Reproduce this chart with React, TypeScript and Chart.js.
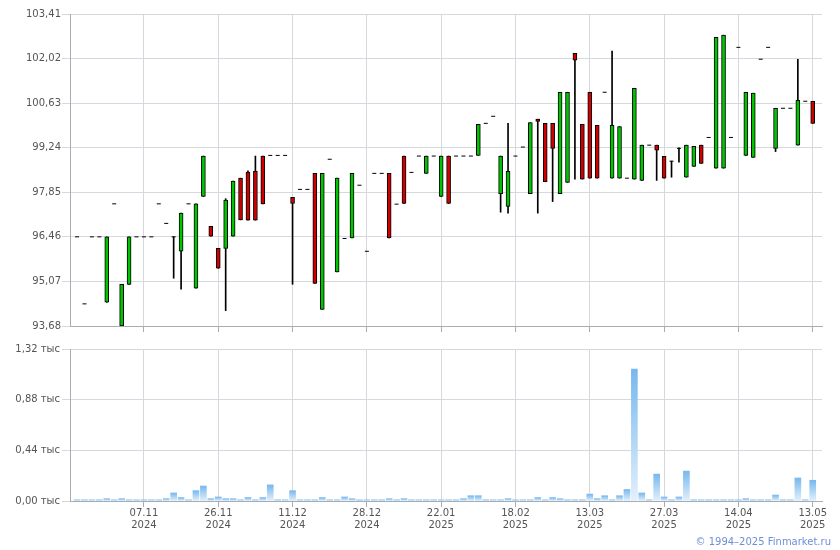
import React, { useEffect, useRef } from 'react';
import { Chart, registerables } from 'chart.js';

Chart.register(...registerables);

// ---- Data ----
const opens = [
  96.46, 94.37, 96.46, 96.46, 94.42, 97.49, 93.68, 94.98, 96.46, 96.46,
  96.46, 97.49, 96.88, 96.46, 96.01, 97.49, 94.86, 97.72, 96.79, 96.10,
  96.10, 96.48, 98.29, 98.48, 98.51, 98.98, 99.00, 99.00, 99.00, 97.69,
  97.94, 97.94, 98.44, 94.20, 98.88, 95.37, 96.41, 96.43, 98.07, 96.01,
  98.44, 98.44, 98.44, 97.48, 98.98, 98.47, 98.98, 98.44, 98.98, 97.72,
  98.98, 98.98, 98.98, 98.98, 99.00, 100.00, 100.22, 97.81, 97.41, 98.98,
  99.26, 97.81, 100.13, 100.00, 100.00, 97.81, 98.16, 102.18, 99.97, 100.97,
  99.94, 100.97, 98.29, 98.29, 98.29, 98.26, 98.22, 99.32, 99.32, 98.97,
  98.82, 99.22, 98.32, 98.66, 99.32, 99.56, 98.60, 98.60, 99.56, 102.37,
  99.00, 98.94, 102.00, 102.37, 99.22, 100.47, 100.47, 99.32, 100.69, 100.69,
];
const closes = [
  96.46, 94.37, 96.46, 96.46, 96.46, 97.49, 94.98, 96.46, 96.46, 96.46,
  96.46, 97.49, 96.88, 96.46, 97.20, 97.49, 97.49, 98.98, 96.48, 95.48,
  97.61, 98.20, 96.99, 96.98, 96.98, 97.49, 99.00, 99.00, 99.00, 97.50,
  97.94, 97.94, 95.01, 98.44, 98.88, 98.29, 96.41, 98.44, 98.07, 96.01,
  98.44, 98.44, 96.43, 97.48, 97.50, 98.47, 98.98, 98.98, 98.98, 98.98,
  97.50, 98.98, 98.98, 98.98, 99.97, 100.00, 100.22, 98.98, 98.50, 98.98,
  99.26, 100.02, 100.06, 98.18, 99.22, 100.97, 100.97, 101.97, 98.26, 98.29,
  98.29, 100.97, 99.94, 99.90, 98.29, 101.09, 99.32, 99.32, 99.16, 98.29,
  98.82, 99.22, 99.32, 99.28, 98.75, 99.56, 102.68, 102.75, 99.56, 102.37,
  100.97, 100.94, 102.00, 102.37, 100.47, 100.47, 100.47, 100.72, 100.69, 100.00,
];
const highs = [
  96.46, 94.37, 96.46, 96.46, 96.46, 97.49, 94.98, 96.46, 96.46, 96.46,
  96.46, 97.49, 96.88, 96.46, 97.20, 97.49, 97.49, 98.98, 96.79, 96.10,
  97.65, 98.20, 98.29, 98.52, 98.98, 98.98, 99.00, 99.00, 99.00, 97.69,
  97.94, 97.94, 98.44, 98.44, 98.88, 98.29, 96.41, 98.44, 98.07, 96.01,
  98.44, 98.44, 98.44, 97.48, 98.98, 98.47, 98.98, 98.98, 98.98, 98.98,
  98.98, 98.98, 98.98, 98.98, 99.97, 100.00, 100.22, 98.98, 100.00, 98.98,
  99.26, 100.02, 100.13, 100.00, 100.00, 100.97, 100.97, 102.18, 99.97, 100.97,
  99.94, 100.97, 102.25, 99.90, 98.29, 101.09, 99.32, 99.32, 99.32, 98.97,
  98.82, 99.24, 99.32, 99.28, 99.32, 99.56, 102.68, 102.75, 99.56, 102.37,
  100.97, 100.94, 102.00, 102.37, 100.47, 100.47, 100.47, 102.00, 100.69, 100.69,
];
const lows = [
  96.46, 94.37, 96.46, 96.46, 94.42, 97.49, 93.68, 94.98, 96.46, 96.46,
  96.46, 97.49, 96.88, 95.17, 94.83, 97.49, 94.86, 97.72, 96.48, 95.48,
  94.16, 96.48, 96.99, 96.98, 96.98, 97.49, 99.00, 99.00, 99.00, 94.98,
  97.94, 97.94, 95.01, 94.20, 98.88, 95.37, 96.41, 96.43, 98.07, 96.01,
  98.44, 98.44, 96.43, 97.48, 97.50, 98.47, 98.98, 98.44, 98.98, 97.72,
  97.50, 98.98, 98.98, 98.98, 99.00, 100.00, 100.22, 97.23, 97.20, 98.98,
  99.26, 97.81, 97.20, 98.18, 97.56, 97.81, 98.16, 98.26, 98.26, 98.29,
  98.29, 100.97, 98.29, 98.29, 98.29, 98.26, 98.22, 99.32, 98.22, 98.29,
  98.32, 98.79, 98.32, 98.66, 98.75, 99.56, 98.60, 98.60, 99.56, 102.37,
  99.00, 98.94, 102.00, 102.37, 99.12, 100.47, 100.47, 99.32, 100.69, 100.00,
];
// volume, thousands
const volumes = [
  0.01, 0.01, 0.01, 0.01, 0.02, 0.01, 0.02, 0.01, 0.01, 0.01,
  0.01, 0.01, 0.02, 0.07, 0.03, 0.01, 0.09, 0.13, 0.02, 0.035,
  0.02, 0.02, 0.01, 0.03, 0.01, 0.03, 0.14, 0.01, 0.01, 0.09,
  0.01, 0.01, 0.01, 0.03, 0.01, 0.01, 0.035, 0.02, 0.01, 0.01,
  0.01, 0.01, 0.02, 0.01, 0.02, 0.01, 0.01, 0.01, 0.01, 0.01,
  0.01, 0.01, 0.02, 0.046, 0.046, 0.01, 0.01, 0.01, 0.02, 0.01,
  0.01, 0.01, 0.03, 0.01, 0.03, 0.02, 0.01, 0.01, 0.01, 0.06,
  0.02, 0.046, 0.01, 0.046, 0.10, 1.146, 0.07, 0.01, 0.234, 0.035,
  0.01, 0.035, 0.26, 0.01, 0.01, 0.01, 0.01, 0.01, 0.01, 0.01,
  0.02, 0.01, 0.01, 0.01, 0.052, 0.01, 0.01, 0.20, 0.01, 0.18,
];
const labelIndices = [9, 19, 29, 39, 49, 59, 69, 79, 89, 99];
const labelDates = ['07.11', '26.11', '11.12', '28.12', '22.01', '18.02', '13.03', '27.03', '14.04', '13.05'];
const labelYears = ['2024', '2024', '2024', '2024', '2025', '2025', '2025', '2025', '2025', '2025'];
const priceTicks = [93.68, 95.07, 96.46, 97.85, 99.24, 100.63, 102.02, 103.41];
const volumeTicks = [0, 0.44, 0.88, 1.32];

// ---- Styles ----
const GREEN = '#00c400';
const RED = '#d00000';
const GRID = '#d5d9dd';
const AXIS = '#a9adb2';
const TEXT = '#555555';
const FONT = 'DejaVu Sans';
const VOL_TOP = '#78b8ee';
const VOL_BOTTOM = '#e2f0fc';
const X_MIN = -0.95;
const X_MAX = 100.25;

const fmt = (v: number) => v.toFixed(2).replace('.', ',');

export default function App() {
  const priceRef = useRef<HTMLCanvasElement | null>(null);
  const volRef = useRef<HTMLCanvasElement | null>(null);

  useEffect(() => {
    const up: any[] = [];
    const down: any[] = [];
    const dashes: any[] = [];
    const wicks: any[] = [];
    for (let i = 0; i < opens.length; i++) {
      const o = opens[i], c = closes[i], h = highs[i], l = lows[i];
      if (h > l) wicks.push({ x: i, y: [l, h] });
      if (c > o) up.push({ x: i, y: [o, c] });
      else if (c < o) down.push({ x: i, y: [o, c] });
      else dashes.push({ x: i, y: c });
    }

    const xScaleBase = {
      type: 'linear' as const,
      min: X_MIN,
      max: X_MAX,
      offset: false,
      afterBuildTicks: (s: any) => {
        s.ticks = labelIndices.map((v) => ({ value: v }));
      },
      border: { color: AXIS, width: 1 },
    };

    const price = new Chart(priceRef.current!, {
      type: 'bar',
      data: {
        datasets: [
          {
            type: 'bar', data: up, backgroundColor: GREEN, borderColor: '#000', borderWidth: 1,
            borderSkipped: false, barThickness: 4, grouped: false, order: 1,
          } as any,
          {
            type: 'bar', data: down, backgroundColor: RED, borderColor: '#000', borderWidth: 1,
            borderSkipped: false, barThickness: 4, grouped: false, order: 1,
          } as any,
          {
            type: 'scatter', data: dashes, pointStyle: 'line', pointRadius: 2, pointHoverRadius: 2,
            borderColor: '#000', pointBorderColor: '#000', pointBorderWidth: 1, borderWidth: 1, order: 2,
          } as any,
          {
            type: 'bar', data: wicks, backgroundColor: '#000', borderWidth: 0,
            barThickness: 1, grouped: false, order: 3,
          } as any,
        ],
      },
      options: {
        animation: false,
        responsive: false,
        maintainAspectRatio: false,
        events: [],
        layout: { padding: { left: 0, right: 18, top: 14, bottom: 0 } },
        plugins: { legend: { display: false }, tooltip: { enabled: false } },
        scales: {
          x: {
            ...xScaleBase,
            ticks: { display: false },
            grid: { color: GRID, tickLength: 6, tickColor: AXIS, offset: false },
            afterFit: (s: any) => { s.height = 14; },
          } as any,
          y: {
            type: 'linear',
            min: priceTicks[0],
            max: priceTicks[priceTicks.length - 1],
            afterBuildTicks: (s: any) => { s.ticks = priceTicks.map((v) => ({ value: v })); },
            ticks: { callback: (v: any) => fmt(Number(v)), color: TEXT, font: { family: FONT, size: 10 }, padding: 1 },
            grid: { color: GRID, tickLength: 8 },
            border: { color: AXIS, width: 1 },
            afterFit: (s: any) => { s.width = 70; },
          } as any,
        },
      },
    });

    const volData = volumes.map((v, i) => ({ x: i, y: v }));
    const vol = new Chart(volRef.current!, {
      type: 'bar',
      data: {
        datasets: [
          {
            type: 'bar',
            data: volData,
            barThickness: 6,
            grouped: false,
            borderWidth: 0,
            backgroundColor: (c: any) => {
              const chart = c.chart;
              const ys = chart.scales && chart.scales.y;
              const v = c.parsed ? c.parsed.y : null;
              if (!ys || v == null || !chart.chartArea) return VOL_TOP;
              const top = ys.getPixelForValue(v);
              const base = ys.getPixelForValue(0);
              if (!isFinite(top) || !isFinite(base) || base - top < 1) return VOL_TOP;
              const g = chart.ctx.createLinearGradient(0, top, 0, base);
              g.addColorStop(0, VOL_TOP);
              g.addColorStop(1, VOL_BOTTOM);
              return g;
            },
          } as any,
        ],
      },
      options: {
        animation: false,
        responsive: false,
        maintainAspectRatio: false,
        events: [],
        layout: { padding: { left: 0, right: 18, top: 9, bottom: 0 } },
        plugins: { legend: { display: false }, tooltip: { enabled: false } },
        scales: {
          x: {
            ...xScaleBase,
            ticks: {
              autoSkip: false,
              maxRotation: 0,
              minRotation: 0,
              padding: 0,
              color: TEXT,
              font: { family: FONT, size: 10, lineHeight: 1.2 },
              callback: (v: any) => {
                const k = labelIndices.indexOf(Math.round(Number(v)));
                return k >= 0 ? [labelDates[k], labelYears[k]] : '';
              },
            },
            grid: { color: GRID, tickLength: 6, tickColor: AXIS, offset: false },
            afterFit: (s: any) => { s.height = 49; },
          } as any,
          y: {
            type: 'linear',
            min: 0,
            max: volumeTicks[volumeTicks.length - 1],
            afterBuildTicks: (s: any) => { s.ticks = volumeTicks.map((v) => ({ value: v })); },
            ticks: { callback: (v: any) => fmt(Number(v)) + ' тыс', color: TEXT, font: { family: FONT, size: 10 }, padding: 2 },
            grid: { color: GRID, tickLength: 8 },
            border: { color: AXIS, width: 1 },
            afterFit: (s: any) => { s.width = 70; },
          } as any,
        },
      },
    });

    return () => {
      price.destroy();
      vol.destroy();
    };
  }, []);

  return (
    <div style={{ position: 'absolute', left: 0, top: 0, width: 840, height: 550, background: '#fff', overflow: 'hidden' }}>
      <canvas ref={priceRef} width={840} height={340} style={{ position: 'absolute', left: 0, top: 0, display: 'block' }} />
      <canvas ref={volRef} width={840} height={210} style={{ position: 'absolute', left: 0, top: 340, display: 'block' }} />
      <div
        style={{
          position: 'absolute', right: 9, top: 535, fontFamily: FONT, fontSize: 10, lineHeight: '14px',
          color: '#6d8fd8', whiteSpace: 'nowrap',
        }}
      >
        © 1994–2025 Finmarket.ru
      </div>
    </div>
  );
}
